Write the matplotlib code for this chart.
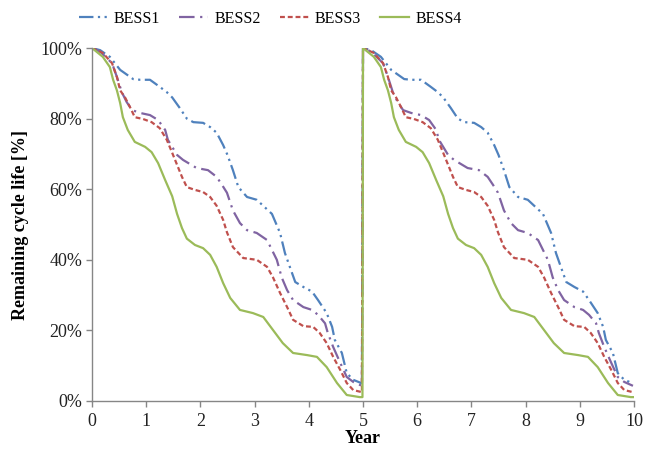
import matplotlib
matplotlib.use("Agg")
import matplotlib.pyplot as plt
from matplotlib.ticker import FuncFormatter

# ---- Data (first 5-year cycle, repeated for the second cycle) ----
series_names = ["BESS1", "BESS2", "BESS3", "BESS4"]

bess1_year = [0, 0.15, 0.33, 0.52, 0.76, 0.89, 1.07, 1.25, 1.38, 1.48, 1.62, 1.75, 1.87, 2.05,
              2.18, 2.30, 2.42, 2.50, 2.60, 2.70, 2.86, 3.04, 3.18, 3.32, 3.47, 3.56, 3.65, 3.75,
              3.90, 4.06, 4.17, 4.33, 4.43, 4.48, 4.61, 4.70, 4.82, 4.98]
bess1_life = [100, 99.4, 97.5, 93.8, 91.2, 91.0, 91.0, 89.0, 87.5, 86.0, 83.0, 80.0, 79.0, 78.8,
              77.6, 76.0, 72.5, 69.7, 65.4, 60.6, 57.8, 57.0, 55.0, 53.0, 47.6, 41.9, 38.0, 33.7,
              32.3, 31.0, 28.6, 24.9, 21.0, 17.3, 13.6, 7.9, 6.0, 5.0]

bess2_year = [0, 0.15, 0.37, 0.46, 0.55, 0.64, 0.74, 0.89, 1.07, 1.22, 1.35, 1.40, 1.57, 1.68,
              1.93, 2.14, 2.30, 2.40, 2.49, 2.60, 2.73, 2.86, 3.04, 3.23, 3.32, 3.41, 3.50, 3.60,
              3.71, 3.90, 4.06, 4.17, 4.30, 4.35, 4.45, 4.58, 4.70, 4.82, 4.98]
bess2_life = [100, 99.0, 95.7, 91.8, 87.5, 84.7, 82.4, 81.6, 81.0, 79.6, 76.8, 74.0, 69.7, 68.3,
              66.0, 65.4, 63.5, 61.2, 59.0, 54.0, 50.4, 48.4, 47.6, 45.6, 42.8, 40.0, 35.0, 31.4,
              28.6, 26.6, 25.8, 24.4, 22.0, 19.3, 15.3, 10.8, 6.8, 5.4, 4.3]

bess3_year = [0, 0.20, 0.37, 0.46, 0.52, 0.61, 0.70, 0.79, 0.94, 1.10, 1.25, 1.38, 1.48, 1.57,
              1.66, 1.75, 1.90, 2.05, 2.18, 2.30, 2.42, 2.49, 2.60, 2.79, 3.04, 3.23, 3.34, 3.47,
              3.60, 3.71, 3.90, 4.08, 4.20, 4.33, 4.45, 4.58, 4.70, 4.82, 4.98]
bess3_life = [100, 98.6, 95.7, 91.8, 88.0, 86.0, 83.3, 80.4, 79.9, 79.0, 77.3, 74.0, 70.3, 66.9,
              63.5, 60.6, 59.8, 59.2, 57.8, 55.3, 51.3, 47.8, 43.6, 40.5, 40.0, 38.0, 35.0, 30.6,
              26.6, 23.0, 21.2, 21.0, 19.3, 16.4, 12.5, 8.8, 5.1, 3.1, 2.5]

bess4_year = [0, 0.20, 0.33, 0.39, 0.46, 0.52, 0.57, 0.66, 0.79, 0.98, 1.10, 1.22, 1.35, 1.48,
              1.57, 1.66, 1.75, 1.90, 2.05, 2.18, 2.30, 2.42, 2.55, 2.73, 2.97, 3.16, 3.34, 3.52,
              3.71, 3.97, 4.15, 4.33, 4.52, 4.70, 4.94, 4.99]
bess4_life = [100, 97.5, 94.6, 91.0, 88.0, 84.4, 80.4, 76.8, 73.4, 72.0, 70.5, 67.4, 62.6, 58.0,
              53.0, 49.0, 46.0, 44.2, 43.3, 41.4, 38.0, 33.4, 29.2, 25.8, 24.9, 23.8, 20.1, 16.4,
              13.6, 13.0, 12.5, 9.6, 5.1, 1.7, 1.1, 1.1]

cycle_length = 5
x_ticks = list(range(0, 11))
y_ticks = [0, 20, 40, 60, 80, 100]

colors = ["#4F81BD", "#8064A2", "#C0504D", "#9BBB59"]
dashes = [(6.5, 2, 1, 2, 1, 2), (7, 2.5, 1, 2.5), (2.2, 1.3), None]

half_years = [bess1_year, bess2_year, bess3_year, bess4_year]
half_lifes = [bess1_life, bess2_life, bess3_life, bess4_life]

plt.rcParams["font.family"] = ["Liberation Serif", "DejaVu Serif"]

fig = plt.figure(figsize=(6.45, 4.53), dpi=100)
ax = fig.add_axes([0.1426, 0.1148, 0.8404, 0.7792])

for name, yrs, lf, c, d in zip(series_names, half_years, half_lifes, colors, dashes):
    xs = list(yrs) + [cycle_length + v for v in yrs]
    ys = list(lf) + list(lf)
    kw = dict(color=c, lw=1.6, label=name)
    if d is not None:
        kw["dashes"] = d
    ax.plot(xs, ys, **kw)

ax.set_xlim(0, 10)
ax.set_ylim(0, 100)
ax.set_xticks(x_ticks)
ax.set_yticks(y_ticks)
ax.yaxis.set_major_formatter(FuncFormatter(lambda v, p: f"{int(v)}%"))

for s in ["top", "right"]:
    ax.spines[s].set_visible(False)
for s in ["left", "bottom"]:
    ax.spines[s].set_color("#868686")
    ax.spines[s].set_linewidth(1.0)
ax.tick_params(axis="both", colors="#868686", length=4, width=1.0, labelsize=13,
               labelcolor="#222222", direction="out")
ax.tick_params(axis="x", pad=5)
ax.tick_params(axis="y", pad=3)

ax.set_xlabel("Year", fontsize=13, fontweight="bold", labelpad=0)
ax.set_ylabel("Remaining cycle life [%]", fontsize=13, fontweight="bold", labelpad=8)

fig.legend(loc="center", bbox_to_anchor=(0.419, 0.958), ncol=4, frameon=False, fontsize=11.5,
           handlelength=1.8, columnspacing=1.2, handletextpad=0.4)

fig.savefig("out.png", dpi=100)
